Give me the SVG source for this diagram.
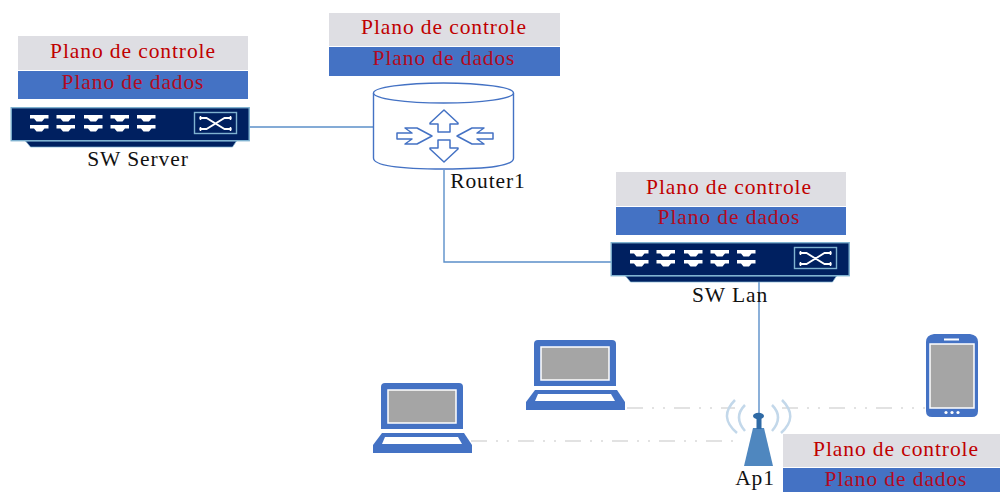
<svg xmlns="http://www.w3.org/2000/svg" xmlns:xlink="http://www.w3.org/1999/xlink" width="1000" height="492" viewBox="0 0 1000 492">
<style>
text{font-family:"Liberation Serif","Times New Roman",serif;font-size:21.500px;letter-spacing:.900px;text-anchor:middle}
.pl{fill:#c00000}
.pd{fill:#b30a22}
.lb{fill:#111}
.ctl{fill:#dedee3}
.dat{fill:#4472c4}
.wire{fill:none;stroke:#5b8fc9;stroke-width:1.400}
.wl{fill:none;stroke:#d9d9d9;stroke-width:1.300;stroke-dasharray:16 9 2 9 2 9}
.blue{fill:#4472c4}
.scr{fill:#a5a5a5;stroke:#fff;stroke-width:1.500}
.ra{fill:#fff;stroke:#4472c4;stroke-width:1.500;stroke-linejoin:round}
.arc{fill:none;stroke:#c3d8ea;stroke-width:2.500}
</style>
<defs>
<g id="port" fill="#fff"><path d="M19.500 8H38V11.500H34L31.500 14.500H26L23.500 11.500H19.500Z"/><path d="M19.500 18H38V21.500H34L31.500 24.500H26L23.500 21.500H19.500Z"/></g>
<g id="sw">
<path d="M15 34H226L222 40H20Z" fill="#002060" stroke="#7fb2d0" stroke-width=".7"/>
<rect x="0.700" y="0.700" width="238" height="33" fill="#002060" stroke="#7fb2d0" stroke-width="1.400"/>
<use xlink:href="#port"/><use xlink:href="#port" x="26.500"/><use xlink:href="#port" x="54"/><use xlink:href="#port" x="80.500"/><use xlink:href="#port" x="107"/>
<rect x="184" y="5.500" width="42" height="21" fill="none" stroke="#7fb2d0" stroke-width="1.400"/>
<path d="M189 11H196L214 22H221M189 22H196L214 11H221" fill="none" stroke="#fff" stroke-width="1.800"/>
<path d="M190 9V13M190 20V24M220 9V13M220 20V24" stroke="#fff" stroke-width="1.500"/>
</g>
<g id="laptop">
<path d="M12 0H86Q90 0 90 4V46H8V4Q8 0 12 0Z" class="blue"/>
<rect x="15" y="7" width="68" height="33" class="scr"/>
<path d="M9 50H91L99 62V70H0V62Z" class="blue"/>
<path d="M12 54H85L89 61H9Z" fill="#fff"/>
</g>
</defs>

<g id="connectors">
<path class="wire" d="M249 127H373"/>
<path class="wire" d="M444 170V262H612"/>
<path class="wire" d="M759 282V414"/>
<path class="wl" d="M627 408H735"/>
<path class="wl" d="M782 408H925"/>
<path class="wl" d="M471 441H738"/>
</g>

<g id="sw-server">
<rect class="ctl" x="18" y="36" width="230" height="34"/>
<rect class="dat" x="18" y="71" width="230" height="28"/>
<text class="pl" x="133" y="57.500">Plano de controle</text>
<text class="pd" x="133" y="88.500">Plano de dados</text>
<use xlink:href="#sw" x="10.500" y="107"/>
<text class="lb" x="138" y="166">SW Server</text>
</g>

<g id="router1">
<rect class="ctl" x="329" y="13" width="231" height="33"/>
<rect class="dat" x="329" y="47" width="231" height="29"/>
<text class="pl" x="444" y="34">Plano de controle</text>
<text class="pd" x="444" y="65">Plano de dados</text>
<path d="M373.500 93V158Q373.500 169 444 169T513.500 158V93" fill="#fff" stroke="#4472c4" stroke-width="1.400"/>
<ellipse cx="443.500" cy="93" rx="70" ry="10" fill="#fff" stroke="#4472c4" stroke-width="1.400"/>
<path class="ra" d="M444 110L458 123V124H450V132H438V124H430V123Z"/>
<path class="ra" d="M444 162L458 149V148H450V140H438V148H430V149Z"/>
<path class="ra" d="M432 136L417 128H405L412 133H397V139H412L405 144H417Z"/>
<path class="ra" d="M457 136L472 128H484L477 133H493V139H477L484 144H472Z"/>
<text class="lb" x="488" y="187.500">Router1</text>
</g>

<g id="sw-lan">
<rect class="ctl" x="616" y="172" width="230" height="34"/>
<rect class="dat" x="616" y="207" width="230" height="28"/>
<text class="pl" x="729" y="194">Plano de controle</text>
<text class="pd" x="729" y="224">Plano de dados</text>
<use xlink:href="#sw" x="610.500" y="242"/>
<text class="lb" x="730" y="302">SW Lan</text>
</g>

<g id="laptop1"><use xlink:href="#laptop" x="373" y="383"/></g>
<g id="laptop2"><use xlink:href="#laptop" x="526" y="340"/></g>

<g id="phone">
<path d="M934 334H970Q978 335 978 342V411Q978 417 972 417H932Q926 417 926 411V342Q926 335 934 334Z" class="blue"/>
<rect x="930" y="344" width="44" height="64" class="scr"/>
<rect x="944" y="338.500" width="15" height="2" fill="#fff"/>
<circle cx="946" cy="412.500" r="1.600" fill="#fff"/><circle cx="952" cy="412.500" r="1.600" fill="#fff"/><circle cx="958" cy="412.500" r="1.600" fill="#fff"/>
</g>

<g id="ap1">
<path class="arc" d="M735 400Q718 417 737 433M745 405Q733 417 745 431M782 400Q799 417 781 433M772 405Q784 417 772 431"/>
<path d="M753 428H764L773 466H744Z" fill="#4f87bf"/>
<rect x="756.500" y="418" width="5" height="11" fill="#2f6aa5"/>
<ellipse cx="758.500" cy="416" rx="5.500" ry="3.200" fill="#2f6aa5"/>
<text class="lb" x="755" y="484.500">Ap1</text>
</g>

<g id="ap-planes">
<rect class="ctl" x="783" y="434" width="217" height="33"/>
<rect class="dat" x="783" y="468" width="217" height="24"/>
<text class="pl" x="896" y="456">Plano de controle</text>
<text class="pd" x="896" y="486">Plano de dados</text>
</g>
</svg>
